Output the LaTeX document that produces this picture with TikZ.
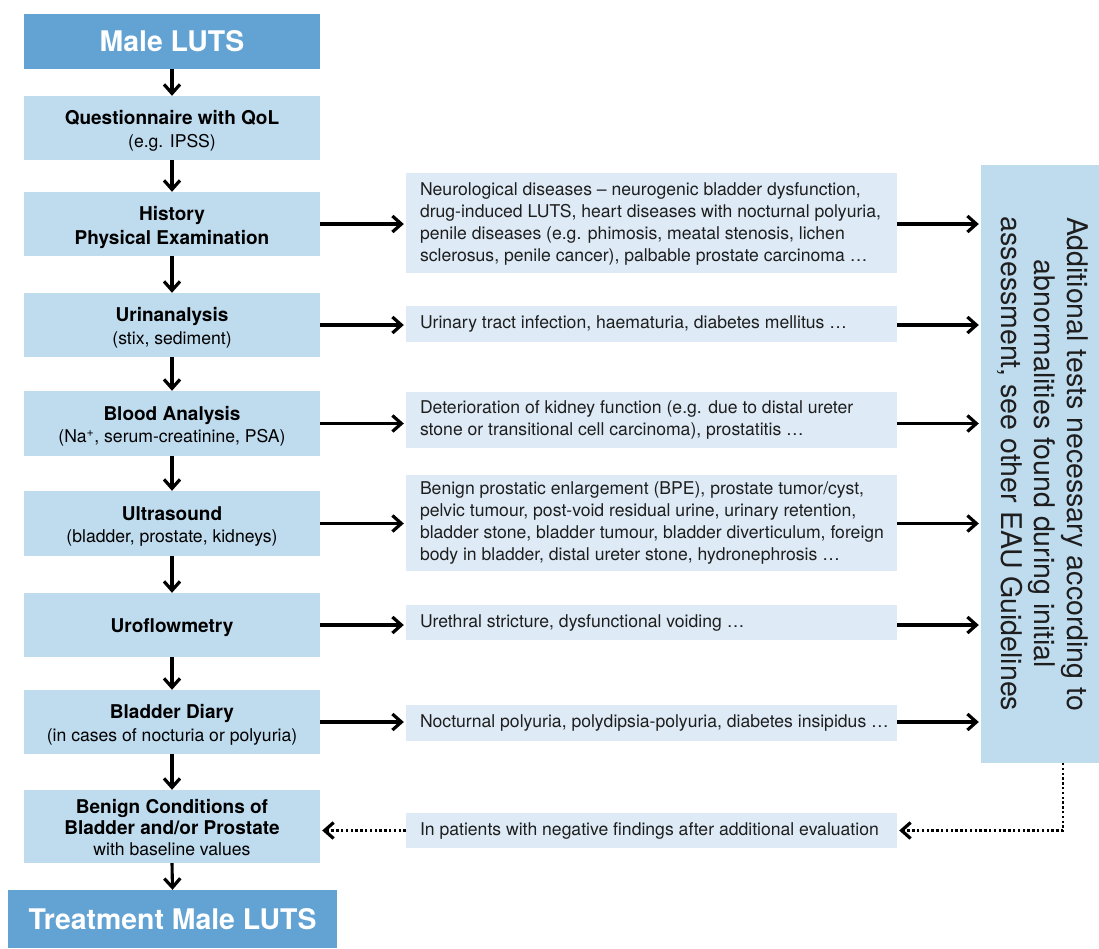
\documentclass[tikz,border=0pt]{standalone}
\usepackage{fontspec}
\setmainfont{TeX Gyre Heros}
\usetikzlibrary{arrows.meta}
\definecolor{darkbox}{HTML}{62A3D3}
\definecolor{lightbox}{HTML}{BFDBEE}
\definecolor{palebox}{HTML}{DEEBF6}
\definecolor{txt}{HTML}{1E1E1E}
\newcommand\ttlfont{\fontsize{28.4}{32}\selectfont\bfseries}
\newcommand\hdfont{\bfseries}
\newcommand\subfont{\mdseries\fontsize{17.6}{22}\selectfont}
\newcommand\midfont{\fontsize{17.6}{21.7}\selectfont}
\newcommand\rfont{\fontsize{28.5}{33}\selectfont}
% box: name, x1, y1, x2, y2, style
\newcommand\bx[6]{\node[#6, minimum width={(#4-#2)*1pt}, minimum height={(#5-#3)*1pt}] (#1) at ({(#2+#4)/2},{(#3+#5)/2}) {};}
\tikzset{
  darkstyle/.style={fill=darkbox, draw=none, inner sep=0pt},
  lightstyle/.style={fill=lightbox, draw=none, inner sep=0pt},
  palestyle/.style={fill=palebox, draw=none, inner sep=0pt},
  lbl/.style={align=center, text=black, inner sep=0pt, font=\fontsize{19}{22.5}\selectfont, yshift=-3pt},
  ttl/.style={align=center, text=white, inner sep=0pt, font=\ttlfont},
  midlbl/.style={align=left, anchor=west, text=txt, inner sep=0pt, font=\midfont},
  arr/.style={line width=3.1pt, -{Straight Barb[length=9pt,width=16pt,line width=3.2pt]}},
  dotarr/.style={line width=2.7pt, dash pattern=on 2.4pt off 2.4pt, -{Straight Barb[length=9pt,width=16pt,line width=3.2pt]}},
}
\begin{document}
\begin{tikzpicture}[x=1pt,y=-1pt]
\useasboundingbox (0,0) rectangle (1099,948);
% left column
\bx{male}{24}{14}{320}{69}{darkstyle}
\bx{quest}{24}{96}{320}{160}{lightstyle}
\bx{hist}{24}{192}{320}{256}{lightstyle}
\bx{urin}{24}{293}{320}{357}{lightstyle}
\bx{blood}{24}{391}{320}{456}{lightstyle}
\bx{ultra}{24}{491}{320}{556}{lightstyle}
\bx{uroflow}{24}{593}{320}{657}{lightstyle}
\bx{diary}{24}{690}{320}{754}{lightstyle}
\bx{benign}{24}{790}{320}{863}{lightstyle}
\bx{treat}{8}{890}{337}{948}{darkstyle}
\node[ttl] at (male) {Male LUTS};
\node[ttl] at (treat) {Treatment Male LUTS};
\node[lbl] at (quest) {{\hdfont Questionnaire with QoL}\\{\subfont (e.g. IPSS)}};
\node[lbl, font=\fontsize{19}{24}\selectfont] at (hist) {{\hdfont History}\\{\hdfont Physical Examination}};
\node[lbl] at (urin) {{\hdfont Urinanalysis}\\{\subfont (stix, sediment)}};
\node[lbl] at (blood) {{\hdfont Blood Analysis}\\{\subfont (Na\textsuperscript{+}, serum-creatinine, PSA)}};
\node[lbl] at (ultra) {{\hdfont Ultrasound}\\{\subfont (bladder, prostate, kidneys)}};
\node[lbl] at (uroflow) {{\hdfont Uroflowmetry}};
\node[lbl] at (diary) {{\hdfont Bladder Diary}\\{\subfont (in cases of nocturia or polyuria)}};
\node[lbl, font=\fontsize{19}{21}\selectfont, yshift=2pt] at (benign) {{\hdfont Benign Conditions of}\\{\hdfont Bladder and/or Prostate}\\{\subfont with baseline values}};
% middle column
\bx{m1}{406}{173}{897}{273}{palestyle}
\bx{m2}{406}{306}{897}{342}{palestyle}
\bx{m3}{406}{392}{897}{448}{palestyle}
\bx{m4}{406}{475}{897}{571}{palestyle}
\bx{m5}{406}{605}{897}{640}{palestyle}
\bx{m6}{406}{705}{897}{741}{palestyle}
\bx{m7}{406}{813}{897}{848}{palestyle}
\node[midlbl] at ([xshift=14pt,yshift=-1pt]m1.west) {Neurological diseases – neurogenic bladder dysfunction,\\drug-induced LUTS, heart diseases with nocturnal polyuria,\\penile diseases (e.g. phimosis, meatal stenosis, lichen\\sclerosus, penile cancer), palbable prostate carcinoma …};
\node[midlbl] at ([xshift=14pt]m2.west) {Urinary tract infection, haematuria, diabetes mellitus …};
\node[midlbl] at ([xshift=14pt]m3.west) {Deterioration of kidney function (e.g. due to distal ureter\\stone or transitional cell carcinoma), prostatitis …};
\node[midlbl] at ([xshift=14pt]m4.west) {Benign prostatic enlargement (BPE), prostate tumor/cyst,\\pelvic tumour, post-void residual urine, urinary retention,\\bladder stone, bladder tumour, bladder diverticulum, foreign\\body in bladder, distal ureter stone, hydronephrosis …};
\node[midlbl] at ([xshift=14pt]m5.west) {Urethral stricture, dysfunctional voiding …};
\node[midlbl] at ([xshift=14pt]m6.west) {Nocturnal polyuria, polydipsia-polyuria, diabetes insipidus …};
\node[midlbl] at ([xshift=14pt]m7.west) {In patients with negative findings after additional evaluation};
% right box
\bx{add}{981}{165}{1099}{763}{lightstyle}
\node[align=center, inner sep=0pt, rotate=-90, font=\rfont, text=txt] at ([xshift=3pt]add.center) {Additional tests necessary according to\\abnormalities found during initial\\assessment, see other EAU Guidelines};
% vertical arrows
\foreach \a/\b in {male/quest, quest/hist, hist/urin, urin/blood, blood/ultra, ultra/uroflow, uroflow/diary, diary/benign, benign/treat}
  \draw[arr] (\a.south) -- (\b.north);
% horizontal arrows
\foreach \a/\b in {hist/m1, urin/m2, blood/m3, ultra/m4, uroflow/m5, diary/m6}{
  \draw[arr, shorten >=2pt] (\a.east) -- (\a.east -| \b.west);
  \draw[arr, shorten >=2pt] (\a.east -| \b.east) -- (\a.east -| add.west);
}
% dotted return
\coordinate (dstart) at (1063,763);
\draw[dotarr, shorten >=2pt] (dstart) |- (m7.east);
\draw[dotarr, shorten >=2pt] (m7.west) -- (m7.west -| benign.east);
\end{tikzpicture}
\end{document}
